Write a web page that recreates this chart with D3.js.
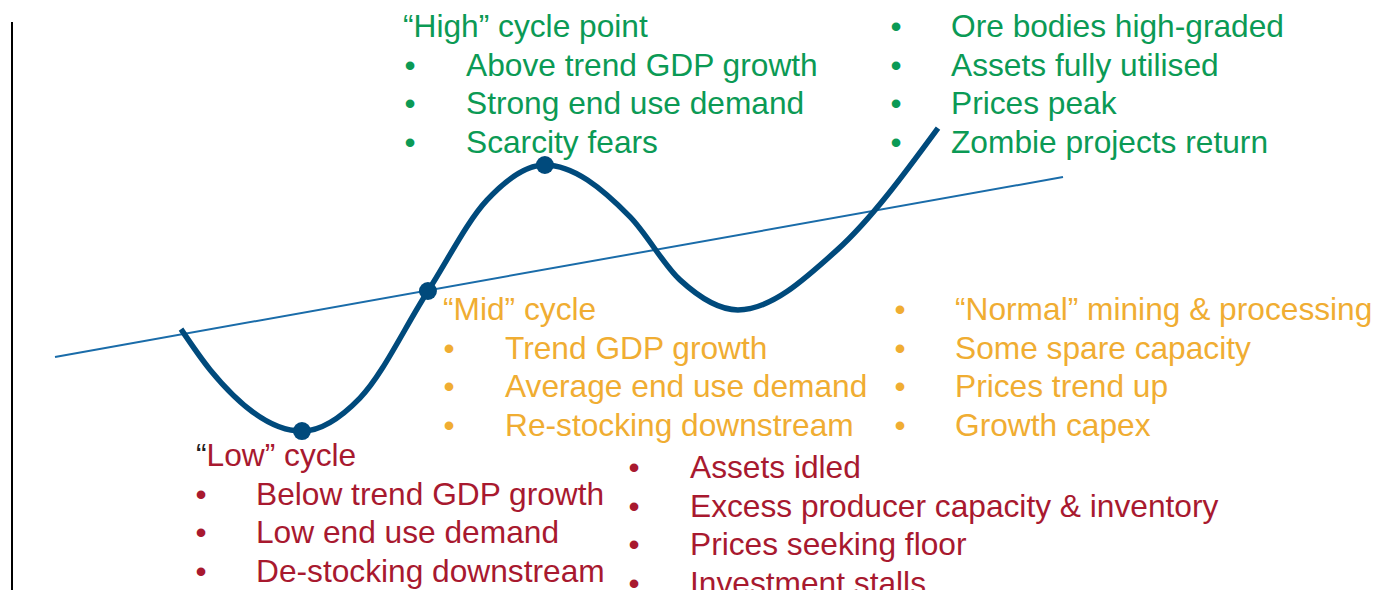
<!DOCTYPE html>
<html>
<head>
<meta charset="utf-8">
<script src="https://cdn.jsdelivr.net/npm/d3@7"></script>
<style>
  html, body { margin: 0; padding: 0; background: #fff; }
  svg { display: block; }
  text { font-family: "Liberation Sans", Arial, sans-serif; }
</style>
</head>
<body>
<div id="chart"></div>
<script>
// Commodity cycle schematic

// ---- data ----
const cycleT = [2.5, 3.08, 4.9, 6.05, 7.4, 8.57, 9.72, 11.41, 12.4, 13.55, 15.52, 17.52];
const cycleV = [4.73, 3.37, 1.33, 2.43, 6.0, 9.03, 10.2, 8.47, 6.37, 5.37, 7.37, 11.43];
const trendT = [0, 20];
const trendV = [3.8, 9.8];
const markerIdx = [2, 4, 6]; // low, mid, high points on the cycle

const highTitle = "\u201cHigh\u201d cycle point";
const highItems = ["Above trend GDP growth", "Strong end use demand", "Scarcity fears"];
const peakItems = ["Ore bodies high-graded", "Assets fully utilised", "Prices peak", "Zombie projects return"];
const midTitle = "\u201cMid\u201d cycle";
const midItems = ["Trend GDP growth", "Average end use demand", "Re-stocking downstream"];
const normalItems = ["\u201cNormal\u201d mining & processing", "Some spare capacity", "Prices trend up", "Growth capex"];
const lowTitle = "Low\u201d cycle";
const lowItems = ["Below trend GDP growth", "Low end use demand", "De-stocking downstream"];
const troughItems = ["Assets idled", "Excess producer capacity & inventory", "Prices seeking floor", "Investment stalls"];

// ---- setup ----
const width = 1376;
const height = 590;
const green = "#0b9a55";
const amber = "#f0ad32";
const red = "#a8192f";
const navy = "#004a7c";

const svg = d3.select("#chart").append("svg")
    .attr("width", width)
    .attr("height", height);

const x = d3.scaleLinear().domain([0, 20]).range([55, 1063]);
const y = d3.scaleLinear().domain([0, 10]).range([471, 171]);

// vertical axis (no ticks)
svg.append("line")
    .attr("x1", 12).attr("x2", 12)
    .attr("y1", 22).attr("y2", height)
    .attr("stroke", "#000")
    .attr("stroke-width", 2);

// trend line
const trend = trendT.map((t, i) => ({ t, v: trendV[i] }));
svg.append("path")
    .datum(trend)
    .attr("fill", "none")
    .attr("stroke", "#1a6ca9")
    .attr("stroke-width", 2)
    .attr("d", d3.line().x(d => x(d.t)).y(d => y(d.v)));

// cycle curve
const cycle = cycleT.map((t, i) => ({ t, v: cycleV[i] }));
svg.append("path")
    .datum(cycle)
    .attr("fill", "none")
    .attr("stroke", navy)
    .attr("stroke-width", 5.5)
    .attr("d", d3.line().curve(d3.curveMonotoneX).x(d => x(d.t)).y(d => y(d.v)));

svg.selectAll(".marker")
    .data(markerIdx.map(i => cycle[i]))
    .join("circle")
    .attr("class", "marker")
    .attr("cx", d => x(d.t))
    .attr("cy", d => y(d.v))
    .attr("r", 9)
    .attr("fill", navy);

// ---- text blocks ----
const fontSize = 31.7;
const lineH = 38.5;

function block(opts) {
    const g = svg.append("g").attr("fill", opts.color).style("font-size", fontSize + "px");
    let row = 0;
    if (opts.title) {
        const t = g.append("text")
            .attr("x", opts.titleX)
            .attr("y", opts.y);
        if (opts.quoteColor) {
            t.append("tspan").attr("fill", opts.quoteColor).text("\u201c");
        }
        t.append("tspan").text(opts.title);
        row = 1;
    }
    opts.items.forEach((s, i) => {
        const yy = opts.y + (row + i) * lineH;
        g.append("text")
            .attr("x", opts.bulletX)
            .attr("y", yy)
            .attr("text-anchor", "middle")
            .text("\u2022");
        g.append("text")
            .attr("x", opts.textX)
            .attr("y", yy)
            .text(s);
    });
}

block({ color: green, title: highTitle, titleX: 403, items: highItems, bulletX: 410, textX: 466, y: 37 });
block({ color: green, items: peakItems, bulletX: 896, textX: 951, y: 37 });
block({ color: amber, title: midTitle, titleX: 443, items: midItems, bulletX: 449, textX: 505, y: 320 });
block({ color: amber, items: normalItems, bulletX: 900, textX: 955, y: 320 });
block({ color: red, title: lowTitle, titleX: 196, quoteColor: "#222", items: lowItems, bulletX: 201, textX: 256, y: 466 });
block({ color: red, items: troughItems, bulletX: 634, textX: 690, y: 478 });
</script>
</body>
</html>
